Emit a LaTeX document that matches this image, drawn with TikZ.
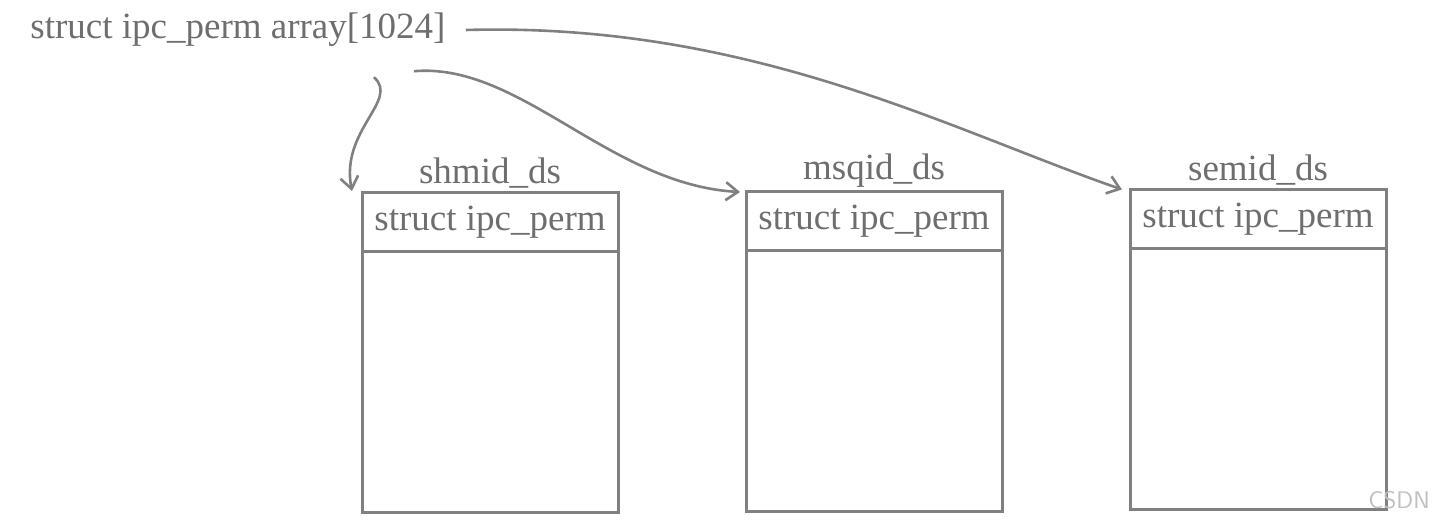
\documentclass[tikz,border=0pt]{standalone}
\usepackage{fontspec}
\setmainfont{Liberation Serif}
\usetikzlibrary{positioning,arrows.meta}
\definecolor{linegray}{HTML}{808080}
\definecolor{textgray}{HTML}{6E6E6E}
\tikzset{
  headbox/.style={draw=linegray, line width=1.5pt, minimum width=128pt, minimum height=29.5pt, inner sep=0pt, outer sep=0pt, text=textgray},
  bodybox/.style={draw=linegray, line width=1.5pt, minimum width=128pt, minimum height=130.5pt, inner sep=0pt, outer sep=0pt},
  boxlabel/.style={text=textgray, inner sep=1pt},
  link/.style={draw=linegray, line width=1.3pt, -{Straight Barb[length=6pt,width=9pt]}}
}
\begin{document}
\begin{tikzpicture}[x=0.5pt,y=-0.5pt,font=\fontsize{18.5}{22}\selectfont]
\useasboundingbox (0,0) rectangle (1435,522);
\node[text=textgray, anchor=west, inner sep=0pt] (arr) at (30,30) {struct ipc\_perm array[1024]};
\node[headbox] (shmhead) at (490,222.5) {struct ipc\_perm};
\node[bodybox, below=0pt of shmhead] (shmbody) {};
\node[boxlabel, above=1pt of shmhead] (shmlbl) {shmid\_ds};
\node[headbox] (msghead) at (874,221.5) {struct ipc\_perm};
\node[bodybox, below=0pt of msghead] (msgbody) {};
\node[boxlabel, above=1pt of msghead] (msglbl) {msqid\_ds};
\node[headbox] (semhead) at (1258,219) {struct ipc\_perm};
\node[bodybox, below=0pt of semhead] (sembody) {};
\node[boxlabel, above=1pt of semhead] (semlbl) {semid\_ds};
\node[text=black!25, font=\fontsize{12}{14}\sffamily, anchor=west, inner sep=0pt] (mark) at (1368,500) {CSDN};
\draw[link] ([xshift=10pt]arr.east) .. controls (750,22) and (950,130) .. ([xshift=-4pt]semhead.north west);
\draw[link] ([xshift=-16pt,yshift=-12pt]arr.south east) .. controls (520,62) and (610,185) .. ([xshift=-3pt]msghead.north west);
\draw[link] ([xshift=-36pt,yshift=-15pt]arr.south east) .. controls (400,100) and (340,130) .. ([xshift=-5pt,yshift=1pt]shmhead.north west);
\end{tikzpicture}
\end{document}
